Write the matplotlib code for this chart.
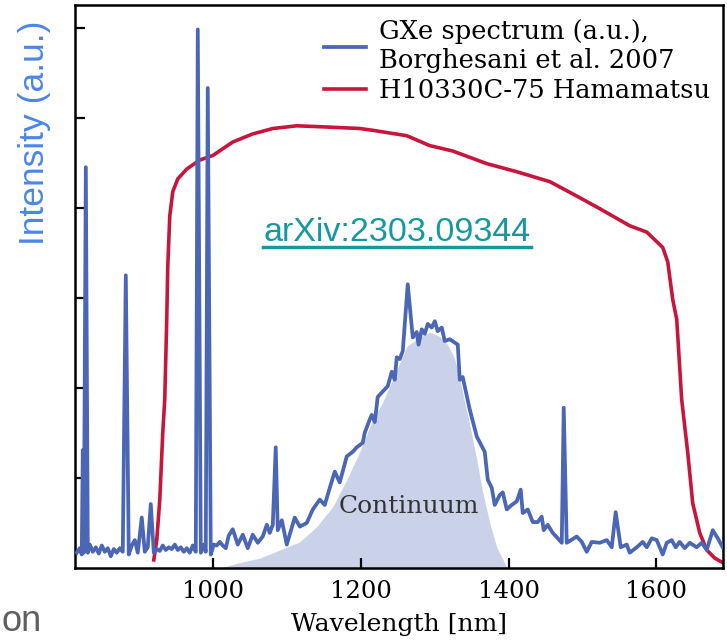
import matplotlib.pyplot as plt
import matplotlib.lines as mlines

# GXe spectrum (Borghesani et al. 2007), arbitrary units
wl = [815.6, 819.6, 822.3, 823.7, 825.1, 827.8, 830.5, 833.2, 837.2, 841.3,
      845.3, 849.4, 853.5, 857.5, 861.6, 865.6, 869.7, 873.8, 877.8, 881.9,
      885.9, 890.0, 894.1, 898.1, 903.5, 907.6, 911.6, 915.7, 919.8, 923.8,
      927.9, 931.9, 936.0, 940.1, 944.1, 948.2, 952.2, 956.3, 960.4, 964.4,
      968.5, 972.5, 976.6, 979.3, 983.4, 987.4, 990.1, 992.8, 996.9, 1000.9,
      1005.0, 1009.1, 1013.1, 1017.2, 1021.2, 1026.6, 1033.4, 1040.2, 1046.9, 1053.7,
      1060.5, 1067.2, 1072.7, 1076.7, 1080.8, 1084.8, 1087.5, 1093.0, 1099.7, 1110.5,
      1117.3, 1126.8, 1134.9, 1144.4, 1151.1, 1157.9, 1164.7, 1171.4, 1180.9, 1189.0,
      1194.4, 1202.5, 1205.2, 1212.0, 1214.7, 1218.8, 1222.8, 1229.6, 1236.4, 1241.8,
      1245.8, 1248.5, 1252.6, 1256.7, 1263.4, 1270.2, 1275.6, 1278.0, 1282.4, 1286.4,
      1290.5, 1295.9, 1300.0, 1304.0, 1309.4, 1313.5, 1320.3, 1331.1, 1333.8, 1337.8,
      1347.3, 1356.8, 1367.6, 1371.7, 1377.1, 1381.1, 1387.9, 1392.0, 1397.4, 1404.1,
      1410.9, 1416.3, 1419.0, 1425.8, 1432.6, 1439.3, 1444.7, 1447.4, 1452.8, 1459.6,
      1466.4, 1471.8, 1474.5, 1478.5, 1482.6, 1492.1, 1498.9, 1505.6, 1512.4, 1523.2,
      1532.7, 1539.4, 1544.8, 1551.6, 1559.7, 1563.8, 1573.3, 1581.4, 1586.8, 1593.6,
      1600.3, 1608.4, 1613.9, 1620.6, 1626.0, 1631.4, 1638.2, 1645.0, 1654.4, 1661.2,
      1668.0, 1676.1, 1682.9, 1689.6]
gxe = [0.17, 0.22, 0.15, 1.31, 0.17, 4.45, 0.17, 0.26, 0.18, 0.23,
       0.16, 0.25, 0.18, 0.22, 0.13, 0.21, 0.17, 0.22, 0.18, 3.25,
       0.15, 0.25, 0.31, 0.17, 0.56, 0.18, 0.23, 0.71, 0.17, 0.21,
       0.19, 0.25, 0.20, 0.23, 0.21, 0.26, 0.20, 0.23, 0.18, 0.22,
       0.17, 0.25, 0.18, 5.98, 0.17, 0.26, 0.18, 5.33, 0.15, 0.26,
       0.25, 0.29, 0.25, 0.22, 0.36, 0.43, 0.26, 0.37, 0.22, 0.37,
       0.28, 0.35, 0.48, 0.39, 0.48, 1.34, 0.42, 0.53, 0.26, 0.56,
       0.46, 0.50, 0.65, 0.76, 0.70, 0.89, 1.07, 0.95, 1.24, 1.29,
       1.34, 1.39, 1.50, 1.65, 1.70, 1.62, 1.90, 1.96, 2.02, 2.18,
       2.09, 2.34, 2.32, 2.41, 3.15, 2.56, 2.62, 2.48, 2.65, 2.60,
       2.71, 2.67, 2.74, 2.63, 2.67, 2.52, 2.54, 2.48, 2.09, 2.12,
       1.76, 1.46, 1.29, 0.98, 0.89, 0.70, 0.81, 0.84, 0.65, 0.70,
       0.74, 0.87, 0.61, 0.65, 0.51, 0.51, 0.57, 0.42, 0.48, 0.39,
       0.33, 0.28, 1.78, 0.28, 0.30, 0.35, 0.29, 0.18, 0.29, 0.28,
       0.31, 0.23, 0.62, 0.23, 0.26, 0.17, 0.23, 0.29, 0.23, 0.33,
       0.31, 0.15, 0.28, 0.31, 0.23, 0.29, 0.22, 0.28, 0.23, 0.28,
       0.20, 0.42, 0.33, 0.23]

# H10330C-75 quantum efficiency, rescaled to the same axis
qe_wl = [919.8, 923.8, 927.9, 931.9, 934.6, 937.3, 938.7, 941.4, 945.5, 952.2,
         964.4, 982.0, 999.6, 1026.6, 1053.7, 1080.8, 1113.2, 1144.4, 1198.5, 1216.1,
         1262.1, 1293.2, 1324.3, 1370.3, 1410.9, 1455.6, 1492.1, 1523.2, 1563.8, 1586.8,
         1608.4, 1615.2, 1622.0, 1627.4, 1634.1, 1642.3, 1649.0, 1658.5, 1668.0, 1678.8,
         1689.6]
qe = [0.09, 0.31, 0.76, 1.50, 1.87, 2.76, 3.35, 3.91, 4.18, 4.32,
      4.43, 4.53, 4.58, 4.73, 4.82, 4.88, 4.91, 4.90, 4.88, 4.86,
      4.80, 4.69, 4.63, 4.49, 4.40, 4.29, 4.13, 3.99, 3.80, 3.73,
      3.56, 3.40, 2.98, 2.76, 1.87, 1.28, 0.72, 0.39, 0.20, 0.11,
      0.06]

# continuum component (shaded)
cont_wl = [1009.0, 1036.1, 1063.2, 1090.2, 1117.3, 1140.3, 1161.9, 1180.9, 1198.5, 1216.1,
           1229.6, 1248.5, 1262.1, 1275.6, 1293.2, 1306.7, 1317.5, 1327.0, 1333.8, 1340.6,
           1347.3, 1356.8, 1364.9, 1374.4, 1383.8, 1397.4]
cont = [0.0, 0.06, 0.11, 0.20, 0.29, 0.46, 0.68, 0.98, 1.29, 1.65,
        1.84, 2.20, 2.46, 2.54, 2.62, 2.57, 2.48, 2.32, 2.09, 1.84,
        1.59, 1.20, 0.84, 0.50, 0.23, 0.01]

blue = '#4a66b4'
red = '#c8153c'

fig = plt.figure(figsize=(7.27, 6.4), dpi=100)
ax = fig.add_axes([0.103, 0.1125, 0.8915, 0.8795])

ax.fill_between(cont_wl, cont, 0, color='#c9d2e9', lw=0, zorder=1)
ax.plot(wl, gxe, color=blue, lw=2.7, zorder=3,
        label='GXe spectrum (a.u.),\nBorghesani et al. 2007')
ax.plot(qe_wl, qe, color=red, lw=2.6, zorder=2, label='H10330C-75 Hamamatsu')

ax.set_xlim(813, 1690)
ax.set_ylim(0, 6.25)
ax.set_xticks([1000, 1200, 1400, 1600])
ax.set_yticks([1, 2, 3, 4, 5, 6])
ax.set_yticklabels([])
ax.tick_params(axis='both', direction='in', width=1.6, length=7,
               labelsize=17.5, pad=9)
for lab in ax.get_xticklabels():
    lab.set_family('DejaVu Serif')
for sp in ax.spines.values():
    sp.set_linewidth(1.8)

ax.set_xlabel('Wavelength [nm]', family='DejaVu Serif', fontsize=18, labelpad=7)

ax.text(1265, 0.68, 'Continuum', family='DejaVu Serif', fontsize=18,
        color='#333333', ha='center', va='center', zorder=4)

leg = ax.legend(loc='upper right', bbox_to_anchor=(1.008, 1.008), frameon=False,
                prop={'family': 'DejaVu Serif', 'size': 18.5},
                handlelength=1.65, handletextpad=0.5, labelspacing=0.2,
                borderaxespad=0.3)

fig.text(0.048, 0.792, 'Intensity (a.u.)', rotation=90, family='Liberation Sans',
         fontsize=25.5, color='#4a86e8', ha='center', va='center')

arx = fig.text(0.546, 0.636, 'arXiv:2303.09344', family='Liberation Sans',
               fontsize=24.5, color='#15999f', ha='center', va='center')

fig.text(0.002, 0.001, 'on', family='Liberation Sans', fontsize=26,
         color='#5f5f5f', ha='left', va='bottom')

# underline for the link text
fig.canvas.draw()
bb = arx.get_window_extent().transformed(fig.transFigure.inverted())
fig.add_artist(mlines.Line2D([bb.x0, bb.x1], [bb.y0 + 0.002, bb.y0 + 0.002],
                             transform=fig.transFigure, color='#15999f', lw=2.5))

fig.savefig('out.png', dpi=100)
